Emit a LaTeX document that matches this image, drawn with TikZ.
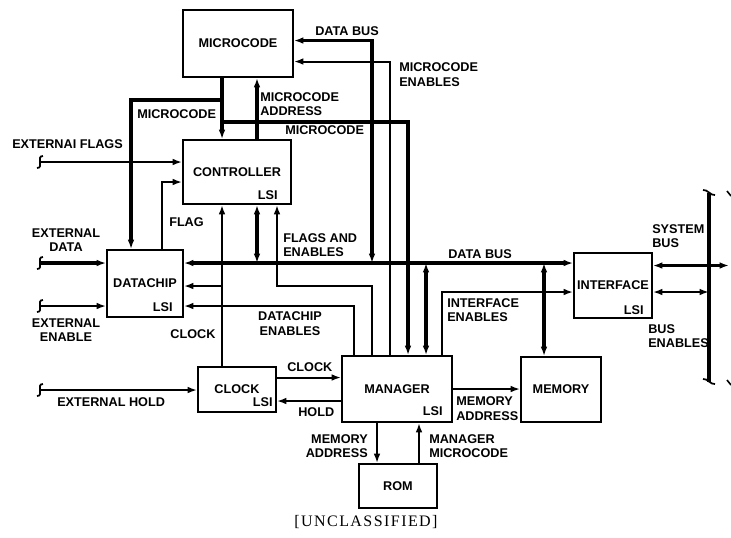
\documentclass[tikz,border=0pt]{standalone}
\usepackage{fontspec}
\setmainfont{Liberation Sans}
\newfontfamily\capfont[LetterSpace=9]{Liberation Serif}
\usetikzlibrary{arrows.meta}

\newlength\pxu \setlength\pxu{0.75pt}% one pixel of the reference
\newcommand{\lblfont}{\fontsize{9.5}{11}\selectfont\bfseries}
% little break marks at the free ends
\newcommand{\brkmark}[1]{\draw[line width=1.3pt] ([shift={(3,-6)}]#1) .. controls ([shift={(-1,-6)}]#1) and ([shift={(0,-3)}]#1) .. (#1) .. controls ([shift={(0,3)}]#1) and ([shift={(1,6)}]#1) .. ([shift={(-3,6)}]#1);}
\newcommand{\busend}[1]{\draw[line width=1.3pt] ([shift={(-6,-3)}]#1) .. controls ([shift={(-2,-4)}]#1) and ([shift={(2,3)}]#1) .. ([shift={(6,2)}]#1);}

\tikzset{
  blk/.style={draw,line width=1.4pt,inner sep=0pt,font=\lblfont},
  lsi/.style={inner sep=0pt,font=\lblfont,anchor=south east},
  lbl/.style={inner sep=0pt,font=\lblfont,align=left},
  bus/.style={line width=2.4pt},
  sig/.style={line width=1.5pt},
}

\begin{document}
\begin{tikzpicture}[x=0.75pt,y=-0.75pt,>={Latex[length=7pt,width=5pt]}]
\useasboundingbox (0,0) rectangle (731,537);

% the blocks
\node[blk,minimum width=110\pxu,minimum height=67\pxu] (mcode) at (238,43.5) {MICROCODE};
\node[blk,minimum width=108\pxu,minimum height=64\pxu] (ctrl) at (237,172) {CONTROLLER};
\node[blk,minimum width=76\pxu,minimum height=67\pxu] (dchip) at (145,283.5) {DATACHIP};
\node[blk,minimum width=78\pxu,minimum height=45\pxu] (clk) at (237,389.5) {CLOCK};
\node[blk,minimum width=110\pxu,minimum height=66\pxu] (mgr) at (397,389) {MANAGER};
\node[blk,minimum width=78\pxu,minimum height=44\pxu] (rom) at (398,486) {ROM};
\node[blk,minimum width=80\pxu,minimum height=65\pxu] (mem) at (561,389.5) {MEMORY};
\node[blk,minimum width=78\pxu,minimum height=65\pxu] (intf) at (613,285.5) {INTERFACE};

\node[lsi] (ctrlLsi) at ([shift={(-14,-5)}]ctrl.south east) {LSI};
\node[lsi] (dchipLsi) at ([shift={(-11,-6)}]dchip.south east) {LSI};
\node[lsi] (clkLsi) at ([shift={(-4,-6)}]clk.south east) {LSI};
\node[lsi] (mgrLsi) at ([shift={(-10,-7)}]mgr.south east) {LSI};
\node[lsi] (intfLsi) at ([shift={(-9,-4)}]intf.south east) {LSI};

% points on the blocks and the buses
\coordinate (busY) at (0,263);
\coordinate (mcA) at (222,100);
\coordinate (mcB) at (222,122);
\coordinate (mT1) at ([shift={(-43,0)}]mgr.north);
\coordinate (mT2) at ([shift={(-25,0)}]mgr.north);
\coordinate (mT3) at ([shift={(-7,0)}]mgr.north);
\coordinate (mT4) at ([shift={(11,0)}]mgr.north);
\coordinate (mT5) at ([shift={(29,0)}]mgr.north);
\coordinate (mT6) at ([shift={(45,0)}]mgr.north);
\coordinate (feJ) at (mT2 |- 0,286);
\coordinate (ckJ) at ([shift={(-15,0)}]clk.north |- 0,286);
\coordinate (xF) at (40,162);
\coordinate (xD) at (40,263);
\coordinate (xE) at (40,306);
\coordinate (xH) at (40,390);
\coordinate (sbTop) at (709,193);
\coordinate (sbBot) at (709,382);
\coordinate (sbOut) at (729,265.5);

% data bus
\draw[bus,<->] (dchip.east |- busY) -- (intf.west |- busY);
\draw[bus,<->] ([shift={(0,-3)}]mcode.east) -| (mT2 |- busY);
\draw[bus,<->] ([shift={(20,0)}]ctrl.south) -- ([shift={(20,0)}]ctrl.south |- busY);
\draw[bus,<->] (mT5) -- (mT5 |- busY);
\draw[bus,<->] ([shift={(-17,0)}]mem.north) -- ([shift={(-17,0)}]mem.north |- busY);

% microcode
\draw[bus,->] (mcode.south -| mcA) -- (ctrl.north -| mcA);
\draw[bus,->] (mcA) -| ([shift={(-14,0)}]dchip.north);
\draw[bus,->] (mcB) -| (mT4);
\draw[bus,->] ([shift={(20,0)}]ctrl.north) -- ([shift={(20,0)}]ctrl.north |- mcode.south);
\draw[sig,<-] ([shift={(0,18)}]mcode.east) -| (mT3);

% flags, enables, clock
\draw[sig,->] (mT2) -- (feJ) -| ([shift={(40,0)}]ctrl.south);
\draw[sig,->] ([shift={(-15,0)}]clk.north) -- ([shift={(-15,0)}]ctrl.south);
\draw[sig,->] (ckJ) -- (dchip.east |- ckJ);
\draw[sig,->] (mT1) |- ([shift={(0,22.5)}]dchip.east);
\draw[sig,->] ([shift={(17,0)}]dchip.north) |- ([shift={(0,10)}]ctrl.west);
\draw[sig,->] (mT6) |- ([shift={(0,6.5)}]intf.west);
\draw[sig,->] ([shift={(0,-12)}]clk.east) -- ([shift={(0,-12)}]clk.east -| mgr.west);
\draw[sig,->] ([shift={(0,12)}]mgr.west) -- ([shift={(0,12)}]mgr.west -| clk.east);
\draw[sig,->] (mgr.east) -- (mgr.east -| mem.west);
\draw[sig,->] ([shift={(-20,0)}]mgr.south) -- ([shift={(-20,0)}]mgr.south |- rom.north);
\draw[sig,->] ([shift={(22,0)}]mgr.south |- rom.north) -- ([shift={(22,0)}]mgr.south);

% external lines
\draw[sig,->] (xF) -- (ctrl.west |- xF);
\draw[bus,->] (xD) -- (dchip.west |- xD);
\draw[sig,->] (xE) -- (dchip.west |- xE);
\draw[sig,->] (xH) -- (clk.west |- xH);
\brkmark{xF} \brkmark{xD} \brkmark{xE} \brkmark{xH}

% system bus
\draw[bus] (sbTop) -- (sbBot);
\draw[bus,<->] ([shift={(0,-20)}]intf.east) -- (sbOut);
\draw[sig,<->] ([shift={(0,6.5)}]intf.east) -- ([shift={(0,6.5)}]intf.east -| sbTop);
\busend{sbTop} \busend{sbBot}
\draw[line width=1.2pt] (727,191) .. controls (729,193) .. (731,196);
\draw[line width=1.2pt] (727,380) .. controls (729,383) .. (731,385);

% labels
\node[lbl,anchor=west] (lDbA) at (315,31) {DATA BUS};
\node[lbl,anchor=west] (lMcEn) at (399,74.5) {MICROCODE\\ENABLES};
\node[lbl,anchor=west] (lMcAd) at (260,104) {MICROCODE\\ADDRESS};
\node[lbl,anchor=west] (lMcB) at (285,130) {MICROCODE};
\node[lbl,anchor=west] (lMcA) at (137,114) {MICROCODE};
\node[lbl,anchor=west] (lXF) at (12,144) {EXTERNAI FLAGS};
\node[lbl,anchor=west] (lFlag) at (169,222) {FLAG};
\node[lbl,align=center] (lXD) at (66,240) {EXTERNAL\\DATA};
\node[lbl,align=center] (lXE) at (66,330) {EXTERNAL\\ENABLE};
\node[lbl] (lClkA) at (193,334) {CLOCK};
\node[lbl,anchor=west] (lFE) at (283,245) {FLAGS AND\\ENABLES};
\node[lbl,anchor=west] (lDbB) at (448,254) {DATA BUS};
\node[lbl,align=center] (lDcEn) at (290,323.5) {DATACHIP\\ENABLES};
\node[lbl,anchor=west] (lIfEn) at (447,310) {INTERFACE\\ENABLES};
\node[lbl,anchor=west] (lSB) at (652,236) {SYSTEM\\BUS};
\node[lbl,anchor=west] (lBE) at (648,336) {BUS\\ENABLES};
\node[lbl,anchor=west] (lClkB) at (287,367) {CLOCK};
\node[lbl,anchor=west] (lHold) at (298,412) {HOLD};
\node[lbl,anchor=west] (lMaA) at (456,408.5) {MEMORY\\ADDRESS};
\node[lbl,anchor=east,align=right] (lMaB) at (368,446) {MEMORY\\ADDRESS};
\node[lbl,anchor=west] (lMM) at (429,446) {MANAGER\\MICROCODE};
\node[lbl,anchor=west] (lXH) at (57,402) {EXTERNAL HOLD};

\node[inner sep=0pt,font=\capfont\fontsize{12}{14}\selectfont] (cap) at (366,522) {[UNCLASSIFIED]};
\end{tikzpicture}
\end{document}
